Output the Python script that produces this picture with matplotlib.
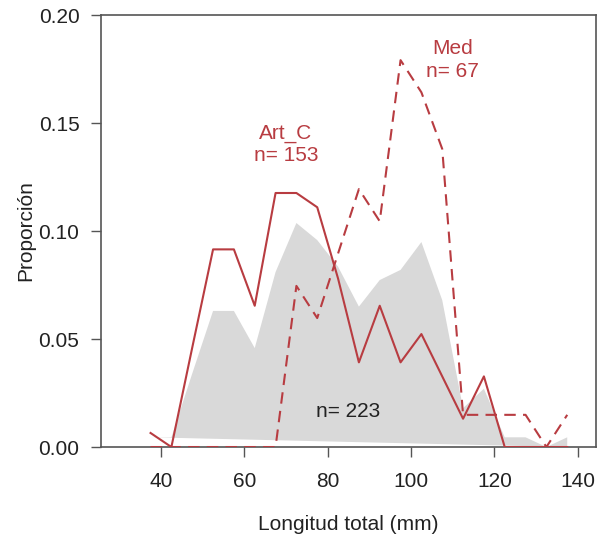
import numpy as np
import matplotlib
matplotlib.use("Agg")
import matplotlib.pyplot as plt

plt.rcParams['font.family'] = ['Liberation Sans', 'DejaVu Sans']

# marcas de clase (mm) y proporciones por clase de talla
talla = [37.5, 42.5, 47.5, 52.5, 57.5, 62.5, 67.5, 72.5, 77.5, 82.5, 87.5,
         92.5, 97.5, 102.5, 107.5, 112.5, 117.5, 122.5, 127.5, 132.5, 137.5]
total = [0.0045, 0.0045, 0.034, 0.063, 0.063, 0.0458, 0.081, 0.1037, 0.0958,
         0.0835, 0.065, 0.0773, 0.082, 0.0949, 0.068, 0.018, 0.027, 0.0045,
         0.0045, 0.0, 0.0045]
art_c = [0.0065, 0.0, 0.046, 0.0915, 0.0915, 0.0654, 0.1176, 0.1176, 0.111,
         0.078, 0.0392, 0.0654, 0.0392, 0.0523, 0.0327, 0.0131, 0.0327, 0.0,
         0.0, 0.0, 0.0]
med = [0.0, 0.0, 0.0, 0.0, 0.0, 0.0, 0.0, 0.0746, 0.0597, 0.0896, 0.1194,
       0.1045, 0.1791, 0.1642, 0.138, 0.0149, 0.0149, 0.0149, 0.0149, 0.0,
       0.0149]
n_total, n_art, n_med = 223, 153, 67

rojo = '#B83C41'
gris_caja = '#555555'

fig = plt.figure(figsize=(6.05, 5.38), dpi=100)
ax = fig.add_axes([0.1669, 0.1691, 0.8182, 0.8030])

# poligono del total: baja a cero en la ultima clase y cierra hacia la primera
ax.fill(talla + [talla[-1]], total + [0], color='#D9D9D9', lw=0, zorder=1)
ax.plot(talla, art_c, color=rojo, lw=1.5, zorder=3)
ax.plot(talla, med, color=rojo, lw=1.5, ls=(0, (5.5, 3.5)), zorder=3)

ax.text(70, 0.14, "Art_C\nn= %d" % n_art, color=rojo, fontsize=15,
        ha='center', va='center', linespacing=1.25)
ax.text(110, 0.179, "Med\nn= %d" % n_med, color=rojo, fontsize=15,
        ha='center', va='center', linespacing=1.25)
ax.text(85, 0.0163, "n= %d" % n_total, color='#222222', fontsize=15,
        ha='center', va='center')

ax.set_xlim(25.6, 144.4)
ax.set_ylim(0, 0.2)
ax.set_xticks(np.arange(40, 141, 20))
ax.set_yticks(np.arange(0, 0.201, 0.05))
ax.set_yticklabels(["%.2f" % v for v in np.arange(0, 0.201, 0.05)])

for s in ax.spines.values():
    s.set_color(gris_caja)
    s.set_linewidth(1.2)
ax.tick_params(length=7.5, width=1, color=gris_caja, labelsize=15,
               labelcolor='#222222')
ax.tick_params(axis='x', pad=10.5)
ax.tick_params(axis='y', pad=8)

ax.set_xlabel("Longitud total (mm)", fontsize=15, color='#222222', labelpad=17)
ax.set_ylabel("Proporción", fontsize=15, color='#222222', labelpad=2)

fig.savefig("out.png", dpi=100)
